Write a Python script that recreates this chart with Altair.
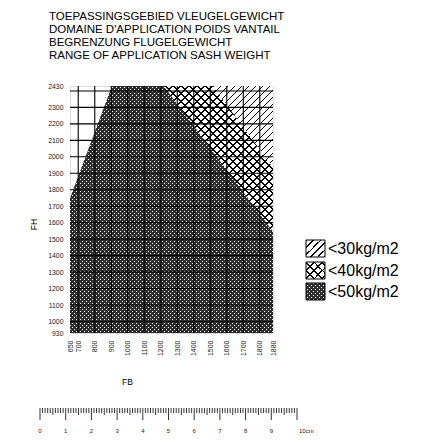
import math
import altair as alt
import pandas as pd

# ---------------- data ----------------
TITLE_LINES = [
    "TOEPASSINGSGEBIED VLEUGELGEWICHT",
    "DOMAINE D'APPLICATION POIDS VANTAIL",
    "BEGRENZUNG FLUGELGEWICHT",
    "RANGE OF APPLICATION SASH WEIGHT",
]
FB_DOMAIN = [650, 1880]
FH_DOMAIN = [930, 2430]
X_LABELS = [650, 700, 800, 900, 1000, 1100, 1200, 1300, 1400, 1500, 1600, 1700, 1800, 1880]
Y_LABELS = [930, 1000, 1100, 1200, 1300, 1400, 1500, 1600, 1700, 1800, 1900, 2000, 2100, 2200, 2300, 2430]
X_GRID = [700, 800, 900, 1000, 1100, 1200, 1300, 1400, 1500, 1600, 1700, 1800]
Y_GRID = [1000, 1100, 1200, 1300, 1400, 1500, 1600, 1700, 1800, 1900, 2000, 2100, 2200, 2300, 2400]

# region outlines (FB, upper FH); lower edge is the bottom of the grid unless given
DOT_FB = [650, 905, 1217, 1880]
DOT_TOP = [1745, 2430, 2430, 1545]
CROSS_FB = [1217, 1517, 1880]
CROSS_TOP = [2430, 2430, 1935]
HATCH_FB = [1517, 1880]
HATCH_TOP = [2430, 2430]
HATCH_BOTTOM = [2430, 1935]

LEGEND_LABELS = ["<30kg/m2", "<40kg/m2", "<50kg/m2"]

RULER_MM = list(range(0, 101))
RULER_CM = list(range(0, 11))
RULER_LABELS = ["0", "1", "2", "3", "4", "5", "6", "7", "8", "9", "10cm"]

# ---------------- layout / style ----------------
W, H = 203, 247
SX = W / (FB_DOMAIN[1] - FB_DOMAIN[0])
SY = H / (FH_DOMAIN[1] - FH_DOMAIN[0])
FONT = "Liberation Sans"
CLEAR = "rgba(255,255,255,0)"
DOT_INK = "#2e2e2e"
R2 = math.sqrt(2)


def stripes(w, h, slope, period, on, on_color="black", off_color="white", phase=0.0):
    """Linear gradient with hard stops giving 45 degree stripes inside a w x h px box."""
    s = 1 / R2
    if slope == "/":
        nx, ny, x1, y1 = s, s, 0.0, 0.0
    else:
        nx, ny, x1, y1 = s, -s, 0.0, 1.0
    L = (w + h) * s
    mu = L / (w * w * nx * nx + h * h * ny * ny)
    x2 = x1 + mu * w * nx
    y2 = y1 + mu * h * ny
    n = L / period
    stops = []
    k = -1
    while k < n:
        a = (k + phase) / n
        b = (k + phase + on / period) / n
        c = (k + 1 + phase) / n
        for col, o0, o1 in ((on_color, a, b), (off_color, b, c)):
            o0, o1 = max(o0, 0.0), min(o1, 1.0)
            if o1 > o0:
                stops += [(col, o0), (col, o1)]
        k += 1
    return alt.Gradient(
        gradient="linear", x1=round(x1, 6), y1=round(y1, 6), x2=round(x2, 6), y2=round(y2, 6),
        stops=[alt.GradientStop(color=col, offset=round(o, 6)) for col, o in stops],
    )


def patterns(kind, w, h):
    if kind == "dot":
        p = 2 * R2  # single-pixel white dots, 4 px apart, rows 2 px apart
        ph2 = 0.125 if round(h) % 2 == 1 else 0.375
        return [stripes(w, h, "/", p, 0.75 * p, on_color=DOT_INK, phase=0.125),
                stripes(w, h, "\\", p, 0.75 * p, on_color=DOT_INK, off_color=CLEAR, phase=ph2)]
    if kind == "cross":
        p = 4 * R2
        return [stripes(w, h, "/", p, 1.06), stripes(w, h, "\\", p, 1.06, off_color=CLEAR)]
    p = 3.5 * R2
    return [stripes(w, h, "/", p, 1.06)]


xs = alt.Scale(domain=FB_DOMAIN, nice=False, zero=False)
ys = alt.Scale(domain=FH_DOMAIN, nice=False, zero=False)

AX_COMMON = dict(grid=False, ticks=False, domain=False, labelOverlap=False, labelFlush=False,
                 labelColor="#222", titleFontWeight="normal", format="d")
XAX = alt.Axis(values=X_LABELS, labelAngle=270, labelFontSize=7, labelPadding=7,
               title="FB", titleFontSize=8.5, titleX=57, titleY=44, orient="bottom", **AX_COMMON)
YAX = alt.Axis(values=Y_LABELS, labelFontSize=6.9, labelPadding=7,
               title="FH", titleFontSize=8.5, titlePadding=9, titleY=138, orient="left", **AX_COMMON)


def region(kind, fb, top, bottom, with_axes=False):
    df = pd.DataFrame({"fb": fb, "top": top, "bottom": bottom})
    w = (max(fb) - min(fb)) * SX
    h = (max(top) - min(bottom)) * SY
    out = []
    for i, g in enumerate(patterns(kind, w, h)):
        first = with_axes and i == 0
        out.append(
            alt.Chart(df).mark_area(fill=g, opacity=1, interpolate="linear").encode(
                x=alt.X("fb:Q", scale=xs, axis=XAX if first else None),
                y=alt.Y("top:Q", scale=ys, axis=YAX if first else None),
                y2="bottom:Q",
            )
        )
    return out


layers = []
layers += region("cross", CROSS_FB, CROSS_TOP, [FH_DOMAIN[0]] * len(CROSS_FB), with_axes=True)
layers += region("dot", DOT_FB, DOT_TOP, [FH_DOMAIN[0]] * len(DOT_FB))
layers += region("hatch", HATCH_FB, HATCH_TOP, HATCH_BOTTOM)

# grid on top
layers.append(
    alt.Chart(pd.DataFrame({"fb": X_GRID})).mark_rule(color="black", strokeWidth=1.1).encode(
        x=alt.X("fb:Q", scale=xs, axis=None)
    )
)
layers.append(
    alt.Chart(pd.DataFrame({"fh": Y_GRID})).mark_rule(color="black", strokeWidth=1.1).encode(
        y=alt.Y("fh:Q", scale=ys, axis=None)
    )
)

# legend (boxes + labels) to the right of the grid
LEG_X, LEG_Y0, LEG_DY, BOX_W, BOX_H = 236, 154, 21.5, 19, 17
for i, (lab, kind) in enumerate(zip(LEGEND_LABELS, ["hatch", "cross", "dot"])):
    y0 = round(LEG_Y0 + i * LEG_DY)
    pats = patterns(kind, BOX_W, BOX_H)
    for j, g in enumerate(pats):
        last = j == len(pats) - 1
        mk = dict(fill=g, opacity=1)
        if last:
            mk.update(stroke="black", strokeWidth=1)
        layers.append(
            alt.Chart(pd.DataFrame({"label": [lab]})).mark_rect(**mk).encode(
                x=alt.value(LEG_X), x2=alt.value(LEG_X + BOX_W),
                y=alt.value(y0), y2=alt.value(y0 + BOX_H),
            )
        )
    layers.append(
        alt.Chart(pd.DataFrame({"label": [lab]})).mark_text(
            align="left", baseline="middle", fontSize=16, font=FONT, color="black"
        ).encode(
            x=alt.value(LEG_X + BOX_W + 3), y=alt.value(y0 + BOX_H / 2 + 0.5), text="label:N"
        )
    )

# ruler below the chart
rx = alt.Scale(domain=[0, 10], range=[-30, 227])
ry = alt.Scale(domain=[0, 30], range=[322, 352])
ruler_df = pd.DataFrame({
    "cm": [m / 10 for m in RULER_MM],
    "y0": [0] * len(RULER_MM),
    "len": [12 if m % 10 == 0 else (7 if m % 5 == 0 else 5) for m in RULER_MM],
})
layers.append(
    alt.Chart(ruler_df).mark_rule(color="black", strokeWidth=0.8).encode(
        x=alt.X("cm:Q", scale=rx, axis=None),
        y=alt.Y("y0:Q", scale=ry, axis=None),
        y2="len:Q",
    )
)
lab_df = pd.DataFrame({"cm": RULER_CM[:-1], "label": RULER_LABELS[:-1], "ly": [23] * (len(RULER_CM) - 1)})
layers.append(
    alt.Chart(lab_df).mark_text(fontSize=6, font=FONT, color="#222", baseline="middle",
                                align="center").encode(
        x=alt.X("cm:Q", scale=rx, axis=None),
        y=alt.Y("ly:Q", scale=ry, axis=None),
        text="label:N",
    )
)
end_df = pd.DataFrame({"cm": RULER_CM[-1:], "label": RULER_LABELS[-1:], "ly": [23]})
layers.append(
    alt.Chart(end_df).mark_text(fontSize=6, font=FONT, color="#222", baseline="middle",
                                align="left", dx=2).encode(
        x=alt.X("cm:Q", scale=rx, axis=None),
        y=alt.Y("ly:Q", scale=ry, axis=None),
        text="label:N",
    )
)

chart = alt.layer(*layers).resolve_scale(x="independent", y="independent").properties(
    width=W, height=H,
    title=alt.TitleParams(
        text=TITLE_LINES, anchor="start", frame="group", fontSize=11.5, fontWeight="normal",
        font=FONT, color="black", lineHeight=13, dx=-21, offset=21,
    ),
    autosize=alt.AutoSizeParams(type="none"),
    padding={"left": 62, "top": 78, "right": 150, "bottom": 102},
).configure_view(stroke="black", strokeWidth=1.5).configure(font=FONT).configure_axis(
    labelFont=FONT, titleFont=FONT, titleColor="black"
)

chart.save("out.html", embed_options={"renderer": "svg", "actions": False})
